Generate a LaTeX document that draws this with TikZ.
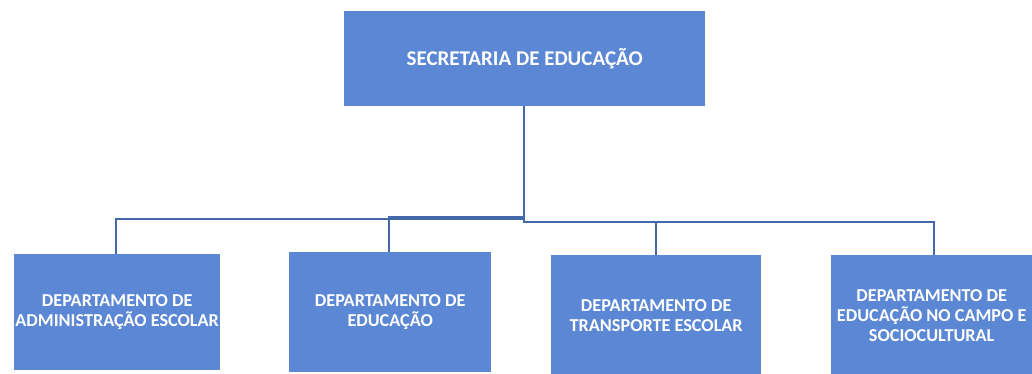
\documentclass[tikz,border=0pt]{standalone}
\usepackage{fontspec}
\setmainfont{Carlito}
\definecolor{boxfill}{RGB}{91,135,212}
\definecolor{linecol}{RGB}{68,105,170}
\begin{document}
\begin{tikzpicture}[x=1pt,y=-1pt,
  box/.style={draw=none, fill=boxfill, anchor=north west, inner sep=0pt, align=center,
    text=white, font=\bfseries\fontsize{18.2}{20}\selectfont},
  conn/.style={draw=linecol, line width=1.8pt}]
\useasboundingbox (0,0) rectangle (1032,373);
\node[box, minimum width=361pt, minimum height=95pt, font=\bfseries\fontsize{21}{24}\selectfont] (top) at (344,11) {SECRETARIA DE EDUCAÇÃO};
\node[box, minimum width=206pt, minimum height=116pt] (d1) at (14,254) {DEPARTAMENTO DE\\ADMINISTRAÇÃO ESCOLAR};
\node[box, minimum width=202pt, minimum height=120pt] (d2) at (289,252) {DEPARTAMENTO DE\\EDUCAÇÃO};
\node[box, minimum width=210pt, minimum height=120pt] (d3) at (551,255) {DEPARTAMENTO DE\\TRANSPORTE ESCOLAR};
\node[box, minimum width=201pt, minimum height=120pt] (d4) at (831,255) {DEPARTAMENTO DE\\EDUCAÇÃO NO CAMPO E\\SOCIOCULTURAL};
\coordinate (ja) at (524,219);
\coordinate (jb) at (524,217);
\coordinate (jc) at (524,222);
\draw[conn] ([xshift=-1pt]top.south) |- (ja) -| ([xshift=-1pt]d1.north);
\draw[conn] ([xshift=-1pt]top.south) |- (jb) -| ([xshift=-1pt]d2.north);
\draw[conn] ([xshift=-1pt]top.south) |- (jc) -| (d3.north);
\draw[conn] ([xshift=-1pt]top.south) |- (jc) -| ([xshift=2pt]d4.north);
\end{tikzpicture}
\end{document}
